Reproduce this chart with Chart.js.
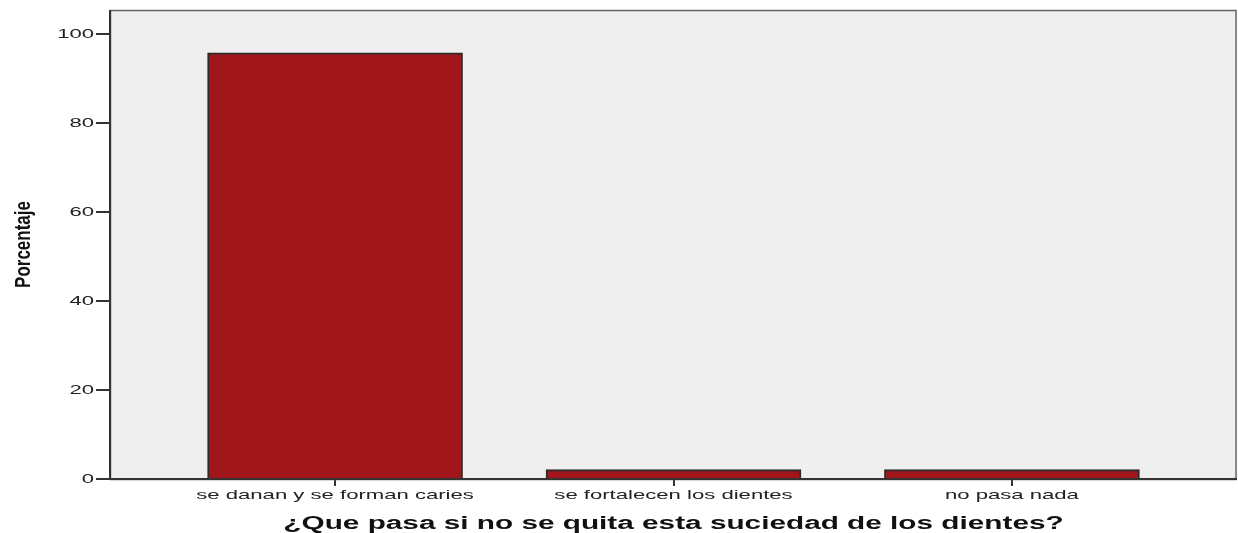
<!DOCTYPE html>
<html>
<head>
<meta charset="utf-8">
<script src="https://cdn.jsdelivr.net/npm/chart.js@4/dist/chart.umd.min.js"></script>
<style>
html,body{margin:0;padding:0;background:#fff;}
#wrap{width:1238px;height:533px;position:relative;}
</style>
</head>
<body>
<div id="wrap"><canvas id="c" width="1238" height="533"></canvas></div>
<script>
const categories = ["se danan y se forman caries", "se fortalecen los dientes", "no pasa nada"];
const percentages = [95.8, 2.1, 2.1];
const yTickValues = [0, 20, 40, 60, 80, 100];
const xTitle = "¿Que pasa si no se quita esta suciedad de los dientes?";
const yTitle = "Porcentaje";

// The reference picture is stretched horizontally; mimic by widening text glyphs.
const canvas = document.getElementById('c');
const ctx2d = canvas.getContext('2d');
const origFill = ctx2d.fillText;
ctx2d.fillText = function(text, x, y, maxWidth) {
  const m = this.getTransform();
  const p = m.transformPoint(new DOMPoint(x, y));
  const rotated = Math.abs(m.b) > 1e-6;
  const sx = rotated ? 1.3 : 1.7;
  const S = new DOMMatrix().translate(p.x, p.y).scale(sx, 1).translate(-p.x, -p.y);
  this.setTransform(S.multiply(m));
  if (maxWidth === undefined) origFill.call(this, text, x, y);
  else origFill.call(this, text, x, y, maxWidth);
  this.setTransform(m);
};

const plotBg = {
  id: 'plotBg',
  beforeDatasetsDraw(chart) {
    const {ctx, chartArea: a} = chart;
    ctx.save();
    ctx.fillStyle = '#efefef';
    ctx.fillRect(a.left, a.top, a.right - a.left, a.bottom - a.top);
    ctx.restore();
  },
  afterDraw(chart) {
    const {ctx, chartArea: a} = chart;
    ctx.save();
    ctx.strokeStyle = '#666';
    ctx.lineWidth = 1.5;
    ctx.strokeRect(a.left + 0.5, a.top + 0.5, a.right - a.left - 1.5, a.bottom - a.top);
    ctx.strokeStyle = '#333';
    ctx.lineWidth = 2;
    ctx.beginPath();
    ctx.moveTo(a.left, a.top);
    ctx.lineTo(a.left, a.bottom);
    ctx.lineTo(a.right, a.bottom);
    ctx.stroke();
    ctx.restore();
  }
};

new Chart(canvas, {
  type: 'bar',
  data: {
    datasets: [{
      data: percentages.map((v, i) => ({x: i, y: v})),
      backgroundColor: '#a1161b',
      borderColor: '#2e2a2a',
      borderWidth: 2,
      borderSkipped: 'bottom',
      barThickness: 255
    }]
  },
  options: {
    responsive: false,
    animation: false,
    layout: {padding: {top: 10, right: 1, left: 0, bottom: 0}},
    plugins: {legend: {display: false}, tooltip: {enabled: false}},
    scales: {
      x: {
        type: 'linear',
        offset: false,
        min: -0.665,
        max: 2.665,
        afterBuildTicks(scale) { scale.ticks = categories.map((c, i) => ({value: i})); },
        afterFit(scale) { scale.height = 54; },
        ticks: {
          autoSkip: false,
          maxRotation: 0,
          padding: 2,
          color: '#222',
          font: {family: 'Liberation Sans', size: 13},
          callback: (v) => categories[v]
        },
        grid: {offset: false, drawOnChartArea: false, drawTicks: true, tickLength: 7, color: '#333', lineWidth: 2},
        border: {display: false},
        title: {
          display: true,
          text: xTitle,
          color: '#111',
          font: {family: 'Liberation Sans', size: 17.5, weight: 'bold'},
          padding: {top: 5, bottom: -2}
        }
      },
      y: {
        min: 0,
        max: 105.4,
        afterBuildTicks(scale) { scale.ticks = yTickValues.map(v => ({value: v})); },
        afterFit(scale) { scale.width = 110; },
        ticks: {
          padding: 2,
          color: '#222',
          font: {family: 'Liberation Sans', size: 13}
        },
        grid: {drawOnChartArea: false, drawTicks: true, tickLength: 14, color: '#333', lineWidth: 2},
        border: {display: false},
        title: {
          display: true,
          text: yTitle,
          color: '#111',
          font: {family: 'Liberation Sans', size: 17, weight: 'bold'},
          padding: {top: 14, bottom: 0}
        }
      }
    }
  },
  plugins: [plotBg]
});
</script>
</body>
</html>
